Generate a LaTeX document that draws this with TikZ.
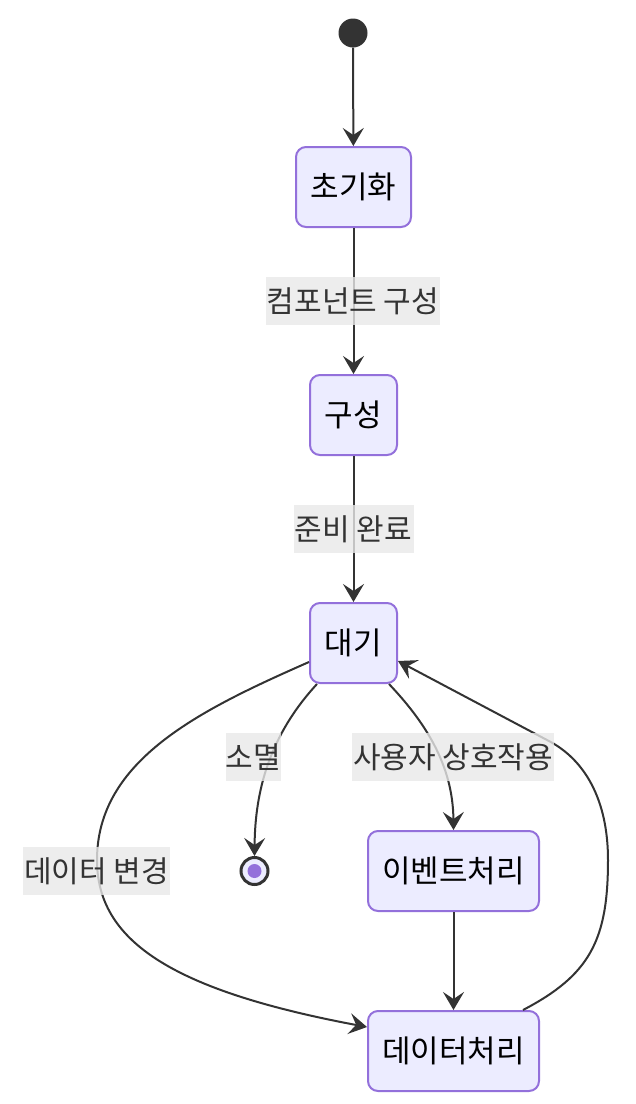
\documentclass[tikz,border=0pt]{standalone}
\usepackage{fontspec}
\setmainfont{Noto Sans CJK KR}
\usetikzlibrary{arrows.meta}
\definecolor{stfill}{HTML}{ECECFF}
\definecolor{stdraw}{HTML}{9370DB}
\definecolor{ln}{HTML}{333333}
\definecolor{lbl}{HTML}{E8E8E8}
\begin{document}
\begin{tikzpicture}[x=1pt,y=-1pt,
  state/.style={draw=stdraw, line width=2pt, fill=stfill, rounded corners=10pt, inner sep=0pt, minimum height=80pt, font=\fontsize{31}{36}\selectfont, text=black},
  lab/.style={fill=lbl, fill opacity=0.8, text opacity=1, text=ln, inner sep=0pt, minimum height=48pt, font=\fontsize{30}{36}\selectfont},
  edge/.style={draw=ln, line width=2pt, -{Stealth[length=18pt,width=21pt,inset=7pt]}}]
\useasboundingbox (0,0) rectangle (636,1104);
% states
\node[circle, fill=ln, minimum size=29pt, inner sep=0pt] (start) at (353,33) {};
\node[state, minimum width=115pt] (init) at (353.5,187) {초기화};
\node[state, minimum width=87pt] (cfg) at (353.5,415) {구성};
\node[state, minimum width=87pt] (idle) at (353.5,643) {대기};
\node[state, minimum width=171pt] (evt) at (453.5,871) {이벤트처리};
\node[state, minimum width=171pt] (data) at (453.5,1051) {데이터처리};
\node[circle, draw=ln, line width=3pt, fill=stfill, minimum size=27pt, inner sep=0pt] (end) at (254.5,871) {};
\node[circle, fill=stdraw, minimum size=14pt, inner sep=0pt] (endin) at (end) {};
% edges
\draw[edge] (start) -- (init);
\draw[edge] (init) -- (cfg);
\draw[edge] (cfg) -- (idle);
\draw[edge] ([xshift=8pt]idle.south west) .. controls (270,735) and (255,790) .. (end.north);
\draw[edge] ([xshift=-9pt]idle.south east) .. controls (425,722) and (453,765) .. (evt.north);
\draw[edge] ([yshift=-19pt]idle.west) .. controls (200,710) and (97,760) .. (97,860) .. controls (97,940) and (170,990) .. ([yshift=24pt]data.west);
\draw[edge] (evt) -- (data);
\draw[edge] ([xshift=-17pt]data.north east) .. controls (590,975) and (608,940) .. (608,860) .. controls (608,800) and (585,759) .. (547,740) -- ([yshift=-18pt]idle.east);
% labels
\node[lab, minimum width=174pt] (l1) at (353,301) {컴포넌트 구성};
\node[lab, minimum width=120pt] (l2) at (353.5,529) {준비 완료};
\node[lab, minimum width=55pt] (l3) at (253.5,757) {소멸};
\node[lab, minimum width=202pt] (l4) at (453,757) {사용자 상호작용};
\node[lab, minimum width=147pt] (l5) at (96.5,871) {데이터 변경};
\end{tikzpicture}
\end{document}
